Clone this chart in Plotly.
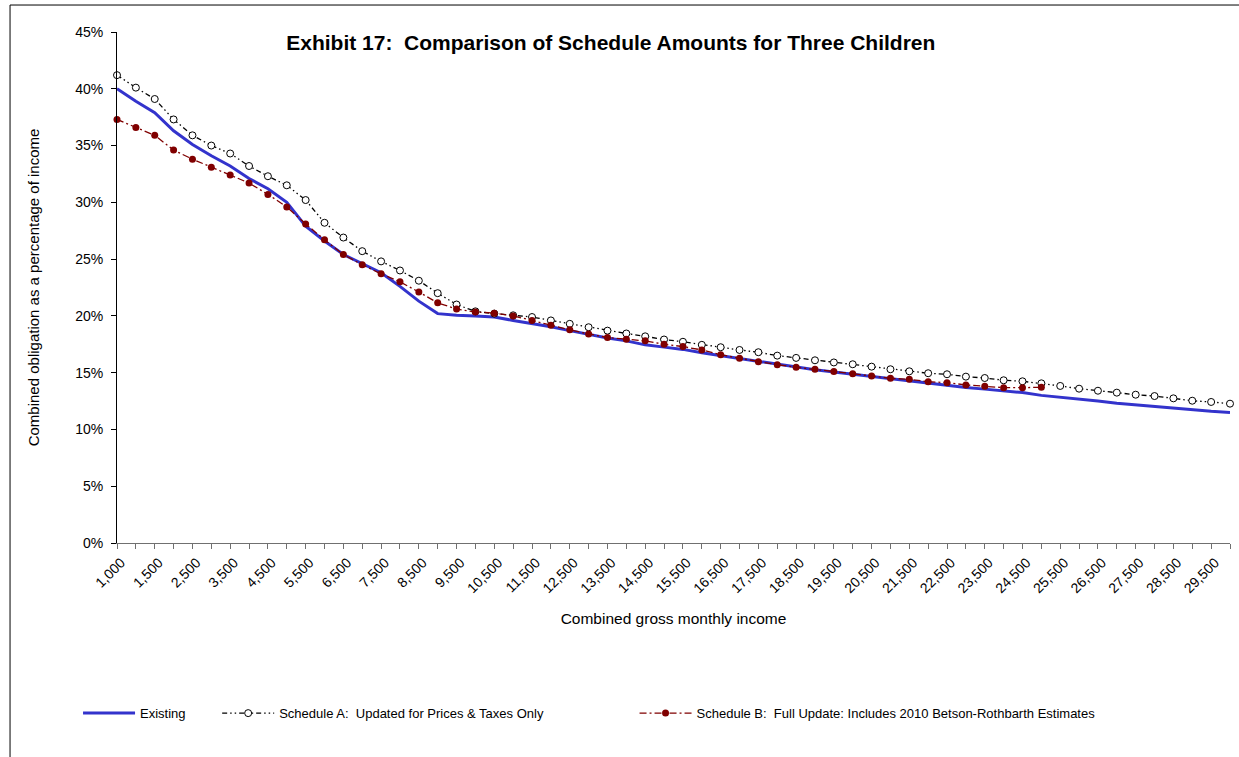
import plotly.graph_objects as go

# ---- data (percent of income) ----
income = [1000, 1250] + list(range(1500, 30001, 500))
categories = [f"{v:,}" for v in income]

existing = [40.0, 38.9, 37.9, 36.3, 35.1, 34.1, 33.2, 32.1, 31.2, 30.0,
            27.9, 26.6, 25.4, 24.6, 23.8, 22.6, 21.3, 20.2, 20.05, 20.0,
            19.9, 19.6, 19.35, 19.05, 18.7, 18.35, 18.05, 17.8, 17.45, 17.25,
            17.05, 16.75, 16.5, 16.2, 15.95, 15.7, 15.45, 15.25, 15.05, 14.85,
            14.65, 14.45, 14.3, 14.1, 13.9, 13.7, 13.55, 13.4, 13.25, 13.0,
            12.85, 12.65, 12.5, 12.3, 12.15, 12.0, 11.9, 11.75, 11.6, 11.5]

schedule_a = [41.2, 40.1, 39.1, 37.3, 35.9, 35.0, 34.3, 33.2, 32.3, 31.5,
              30.2, 28.2, 26.9, 25.7, 24.8, 24.0, 23.1, 22.0, 21.0, 20.4,
              20.2, 20.05, 19.9, 19.6, 19.3, 19.0, 18.7, 18.45, 18.2, 17.92,
              17.72, 17.45, 17.24, 17.0, 16.8, 16.5, 16.3, 16.09, 15.9, 15.74,
              15.53, 15.3, 15.12, 14.95, 14.86, 14.65, 14.53, 14.33, 14.24, 14.06,
              13.83, 13.59, 13.41, 13.24, 13.06, 12.94, 12.74, 12.53, 12.42, 12.27]

schedule_b = [37.3, 36.6, 35.9, 34.6, 33.8, 33.1, 32.4, 31.7, 30.7, 29.6,
              28.1, 26.7, 25.4, 24.5, 23.7, 23.0, 22.1, 21.15, 20.6, 20.35,
              20.24, 20.0, 19.6, 19.18, 18.77, 18.41, 18.09, 17.95, 17.8, 17.5,
              17.3, 17.0, 16.58, 16.27, 15.97, 15.7, 15.47, 15.3, 15.1, 14.91,
              14.71, 14.5, 14.42, 14.21, 14.12, 13.92, 13.8, 13.68, 13.68, 13.71]

tick_text = [c if i % 2 == 0 else "" for i, c in enumerate(categories)]

FONT = "Liberation Sans, Arial, sans-serif"
NB = "\u00a0"

fig = go.Figure()
fig.add_trace(go.Scatter(
    x=categories, y=existing, mode="lines", name="Existing",
    line=dict(color="#3333CC", width=3), legend="legend", showlegend=True))
fig.add_trace(go.Scatter(
    x=categories, y=schedule_a, mode="lines+markers",
    name="Schedule A:" + NB + " Updated for Prices & Taxes Only",
    line=dict(color="black", width=1.3, dash="5px,3px,1.5px,3px,1.5px,3px"),
    marker=dict(symbol="circle", size=7, color="white",
                line=dict(color="black", width=1)),
    cliponaxis=False, legend="legend2", showlegend=True))
fig.add_trace(go.Scatter(
    x=categories[:len(schedule_b)], y=schedule_b, mode="lines+markers",
    name="Schedule B:" + NB + " Full Update: Includes 2010 Betson-Rothbarth Estimates",
    line=dict(color="#800000", width=1.3, dash="7px,3px,2px,3px"),
    marker=dict(symbol="circle", size=7, color="#800000"),
    cliponaxis=False, legend="legend3", showlegend=True))

leg_common = dict(orientation="h", yanchor="middle", y=-0.333, xanchor="left",
                  font=dict(family=FONT, size=13, color="black"),
                  bgcolor="rgba(0,0,0,0)", itemwidth=52, visible=True)

fig.update_layout(
    width=1239, height=757,
    showlegend=True,
    margin=dict(l=117, r=9, t=32, b=214),
    paper_bgcolor="white", plot_bgcolor="white",
    font=dict(family=FONT, size=13, color="black"),
    title=dict(text="<b>Exhibit 17:" + NB + " Comparison of Schedule Amounts for Three Children</b>",
               x=0.493, xanchor="center", y=0.943, yanchor="middle",
               font=dict(family=FONT, size=21, color="black")),
    xaxis=dict(type="category", range=[0, len(categories) - 1],
               tickmode="array", tickvals=categories, ticktext=tick_text,
               tickangle=-45, ticks="outside", ticklen=5, tickcolor="#707070",
               ticklabelshift=4,
               showline=True, linecolor="#707070", linewidth=1,
               showgrid=False, zeroline=False,
               tickfont=dict(family=FONT, size=14, color="black"),
               title=dict(text="Combined gross monthly income", standoff=17,
                          font=dict(family=FONT, size=15.5, color="black"))),
    yaxis=dict(range=[0, 45], dtick=5, ticksuffix="%",
               ticks="outside", ticklen=5, tickcolor="black",
               ticklabelstandoff=5,
               showline=True, linecolor="black", linewidth=1,
               showgrid=False, zeroline=False,
               tickfont=dict(family=FONT, size=14, color="black"),
               title=dict(text="Combined obligation as a percentage of income", standoff=31,
                          font=dict(family=FONT, size=15, color="black"))),
    legend=dict(x=-0.035, **leg_common),
    legend2=dict(x=0.09, **leg_common),
    legend3=dict(x=0.465, **leg_common),
    shapes=[dict(type="rect", xref="paper", yref="paper",
                 x0=-0.0961, x1=1.2, y0=-0.6, y1=1.0528,
                 line=dict(color="black", width=1), fillcolor="rgba(0,0,0,0)",
                 layer="below")],
)

fig.write_html("out.html", config={"displayModeBar": False},
               post_script="document.body.style.margin='0';")
